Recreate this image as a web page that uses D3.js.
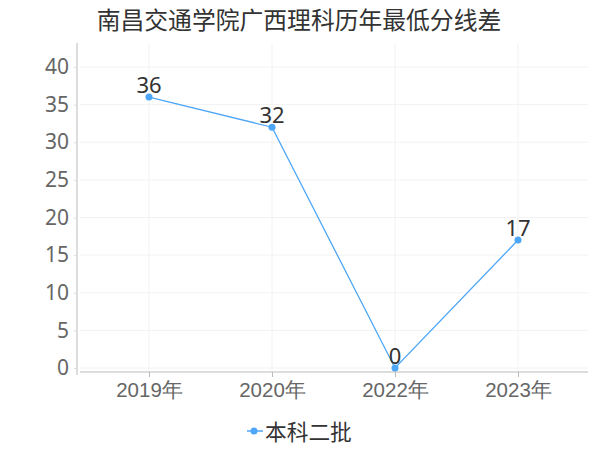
<!DOCTYPE html>
<html><head><meta charset="utf-8">
<script src="https://cdn.jsdelivr.net/npm/d3@7"></script>
<style>body{margin:0;background:#fff}svg{display:block;font-family:"Noto Sans CJK SC","Noto Sans",sans-serif}</style>
</head><body><svg id="c" width="600" height="450"></svg>
<script>
const title = "南昌交通学院广西理科历年最低分线差";
const categories = ["2019年","2020年","2022年","2023年"];
const values = [36, 32, 0, 17];
const seriesName = "本科二批";
const yTicks = [0,5,10,15,20,25,30,35,40];

const svg = d3.select("#c");
const color = "#4da6f7";
const x = d3.scalePoint().domain(categories).range([149, 518]);
const y = d3.scaleLinear().domain([0, 40]).range([368, 67]);

// grid
svg.append("g").selectAll("line").data(yTicks).join("line")
  .attr("x1", 80).attr("x2", 588).attr("y1", d => y(d)).attr("y2", d => y(d))
  .attr("stroke", "#f2f2f2").attr("stroke-width", 1);
svg.append("g").selectAll("line").data(categories).join("line")
  .attr("x1", d => x(d)).attr("x2", d => x(d)).attr("y1", 43).attr("y2", 372)
  .attr("stroke", "#f2f2f2").attr("stroke-width", 1);

// y axis
const ya = svg.append("g").attr("transform", "translate(77,0)")
  .call(d3.axisLeft(y).tickValues(yTicks).tickSize(3).tickPadding(5));
ya.select(".domain").attr("d", "M0,43V375").attr("stroke", "#bbb");
ya.selectAll(".tick line").attr("stroke", "#ddd");
ya.selectAll("text").attr("font-size", 21).attr("fill", "#666")
  .attr("font-family", "'Noto Sans','DejaVu Sans',sans-serif");

// x axis
const xa = svg.append("g").attr("transform", "translate(0,372)")
  .call(d3.axisBottom(x).tickSize(5).tickPadding(5));
xa.select(".domain").attr("d", "M80,0H588").attr("stroke", "#bbb");
xa.selectAll(".tick line").attr("stroke", "#bbb");
xa.selectAll("text").attr("font-size", 20.5).attr("fill", "#666");

// line
const pts = categories.map((c, i) => ({c, v: values[i]}));
svg.append("path").datum(pts)
  .attr("d", d3.line().x(d => x(d.c)).y(d => y(d.v)))
  .attr("fill", "none").attr("stroke", color).attr("stroke-width", 1.3);
svg.append("g").selectAll("circle").data(pts).join("circle")
  .attr("cx", d => x(d.c)).attr("cy", d => y(d.v)).attr("r", 3.5).attr("fill", color);
svg.append("g").selectAll("text").data(pts).join("text")
  .attr("x", d => x(d.c)).attr("y", d => y(d.v) - 4)
  .attr("text-anchor", "middle").attr("font-size", 22).attr("fill", "#333")
  .attr("font-family", "'Noto Sans','DejaVu Sans',sans-serif")
  .text(d => d.v);

// title
svg.append("text").attr("x", 299).attr("y", 29).attr("text-anchor", "middle")
  .attr("font-size", 23.8).attr("fill", "#333").text(title);

// legend
const lg = svg.append("g");
lg.append("line").attr("x1", 247).attr("x2", 263).attr("y1", 431).attr("y2", 431)
  .attr("stroke", color).attr("stroke-width", 1.5);
lg.append("circle").attr("cx", 254).attr("cy", 431).attr("r", 3.5).attr("fill", color);
lg.append("text").attr("x", 265).attr("y", 440).attr("font-size", 21.7).attr("fill", "#333").text(seriesName);
</script></body></html>
